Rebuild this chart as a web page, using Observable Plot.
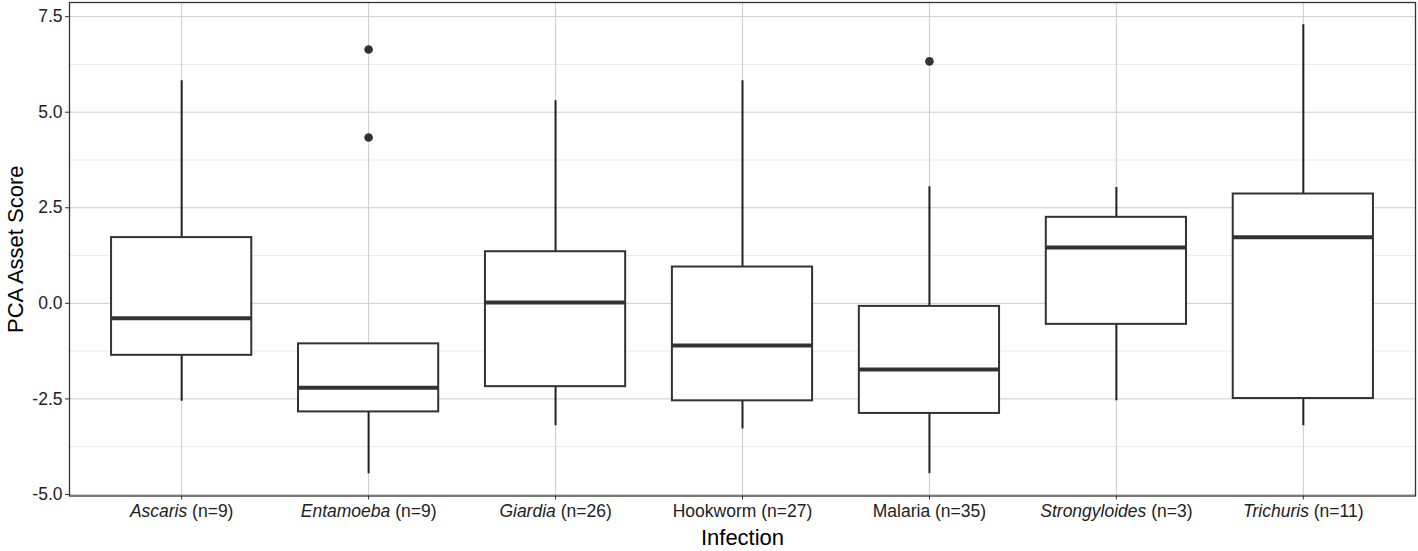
<!DOCTYPE html>
<html>
<head>
<meta charset="utf-8">
<script src="https://cdn.jsdelivr.net/npm/d3@7"></script>
<script src="https://cdn.jsdelivr.net/npm/@observablehq/plot@0.6"></script>
<style>
  html, body { margin: 0; padding: 0; background: #ffffff; }
  #chart { width: 1418px; height: 551px; }
</style>
</head>
<body>
<div id="chart"></div>
<script>
const categories = ["Ascaris", "Entamoeba", "Giardia", "Hookworm", "Malaria", "Strongyloides", "Trichuris"];
const counts = [9, 9, 26, 27, 35, 3, 11];
const italicName = [true, true, true, false, false, true, true];
const lowerWhisker = [-2.56, -4.46, -3.20, -3.29, -4.46, -2.55, -3.20];
const q1 = [-1.36, -2.84, -2.18, -2.55, -2.88, -0.55, -2.49];
const median = [-0.39, -2.21, 0.02, -1.10, -1.73, 1.46, 1.73];
const q3 = [1.72, -1.06, 1.35, 0.95, -0.08, 2.25, 2.86];
const upperWhisker = [5.82, -1.06, 5.30, 5.82, 3.05, 3.03, 7.29];
const outlierCategory = ["Entamoeba", "Entamoeba", "Malaria"];
const outlierValue = [6.64, 4.34, 6.33];
const majorTicks = [-5, -2.5, 0, 2.5, 5, 7.5];
const minorTicks = [-3.75, -1.25, 1.25, 3.75, 6.25];

const table = categories.map((c, i) => ({
  cat: c, lo: lowerWhisker[i], q1: q1[i], med: median[i], q3: q3[i], hi: upperWhisker[i]
}));
const outliers = outlierCategory.map((c, i) => ({cat: c, v: outlierValue[i]}));
const labelOf = c => `${c} (n=${counts[categories.indexOf(c)]})`;

const plot = Plot.plot({
  width: 1418,
  height: 551,
  marginLeft: 69,
  marginRight: 3,
  marginTop: 2,
  marginBottom: 55.5,
  style: {fontFamily: "'Liberation Sans', Arial, Helvetica, sans-serif", background: "#ffffff", color: "#222"},
  x: {type: "band", domain: categories, paddingInner: 0.25, paddingOuter: 0.225, align: 0.5, round: false},
  y: {domain: [-5.04, 7.87]},
  marks: [
    Plot.ruleY(minorTicks, {stroke: "#ebebeb", strokeWidth: 1}),
    Plot.gridY(majorTicks, {stroke: "#cccccc", strokeOpacity: 1, strokeWidth: 1}),
    Plot.gridX({stroke: "#cccccc", strokeOpacity: 1, strokeWidth: 1}),
    Plot.ruleX(table, {x: "cat", y1: "lo", y2: "hi", stroke: "#222", strokeWidth: 2}),
    Plot.barY(table, {x: "cat", y1: "q1", y2: "q3", fill: "#ffffff", stroke: "#333", strokeWidth: 2}),
    Plot.tickY(table, {x: "cat", y: "med", stroke: "#333", strokeWidth: 4}),
    Plot.dot(outliers, {x: "cat", y: "v", r: 4.3, fill: "#333", stroke: "none"}),
    Plot.frame({stroke: "#333", strokeWidth: 1.3}),
    Plot.axisY(majorTicks, {tickFormat: d => d.toFixed(1), tickSize: 4, tickPadding: 3, fontSize: 17.5, stroke: "#333", label: null, fill: "#222"}),
    Plot.axisX({tickFormat: labelOf, tickSize: 4, tickPadding: 5, fontSize: 17.5, stroke: "#333", label: null, fill: "#222"}),
    Plot.text(["PCA Asset Score"], {frameAnchor: "left", dx: -54, rotate: -90, textAnchor: "middle", lineAnchor: "middle", fontSize: 22, fill: "#000"}),
    Plot.text(["Infection"], {frameAnchor: "bottom", dy: 42, textAnchor: "middle", lineAnchor: "middle", fontSize: 22, fill: "#000"})
  ]
});

document.getElementById("chart").appendChild(plot);

// italicise the genus names in the x tick labels
d3.select(plot).selectAll('g[aria-label="x-axis tick label"] text').each(function() {
  const t = d3.select(this);
  const txt = t.text();
  const idx = txt.indexOf(" (");
  const name = txt.slice(0, idx);
  const rest = txt.slice(idx);
  const i = categories.indexOf(name);
  t.text(null);
  t.append("tspan").attr("font-style", italicName[i] ? "italic" : "normal").text(name);
  t.append("tspan").text(rest);
});
</script>
</body>
</html>
